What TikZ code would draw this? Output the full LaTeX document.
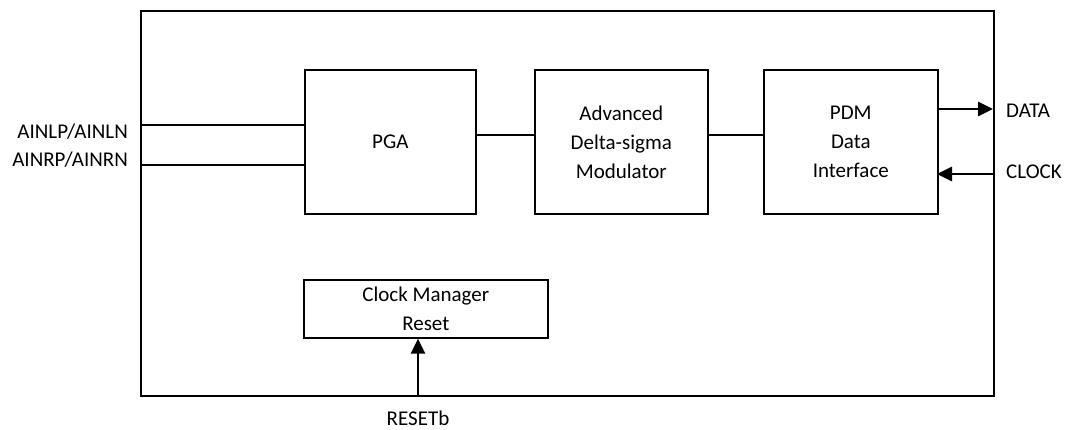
\documentclass[tikz,border=0pt]{standalone}
\usepackage{fontspec}
\setmainfont{Carlito}
\usetikzlibrary{arrows.meta}
\begin{document}
\begin{tikzpicture}[x=1pt,y=-1pt,
  blk/.style={draw,line width=1.6pt,anchor=north west,inner sep=0pt,align=center,
    font=\fontsize{21}{29}\selectfont},
  lbl/.style={inner sep=0pt,font=\fontsize{21}{29}\selectfont},
  wire/.style={line width=1.6pt},
  bus/.style={line width=2.8pt,-{Triangle[length=15pt,width=14pt]}}]
\useasboundingbox (0,0) rectangle (1065,430);
\node[blk,minimum width=853,minimum height=385] (outer) at (140,10) {};
\node[blk,minimum width=171,minimum height=144] (pga) at (304,69) {PGA};
\node[blk,minimum width=173,minimum height=144] (mod) at (534,69) {Advanced\\Delta-sigma\\Modulator};
\node[blk,minimum width=174,minimum height=144] (pdm) at (763,69) {PDM\\Data\\Interface};
\node[blk,minimum width=244,minimum height=58] (clk) at (303,279) {Clock Manager\\Reset};
% inputs
\coordinate (inL) at (140,125);
\coordinate (inR) at (140,165);
\draw[wire] (inL) -- (inL -| pga.west);
\draw[wire] (inR) -- (inR -| pga.west);
\node[lbl,anchor=east] (tL) at (128,132) {AINLP/AINLN};
\node[lbl,anchor=east] (tR) at (128,160) {AINRP/AINRN};
% chain
\coordinate (c1) at (475,135);
\draw[wire] (c1) -- (c1 -| mod.west);
\coordinate (c2) at (707,135);
\draw[wire] (c2) -- (c2 -| pdm.west);
% data / clock
\coordinate (dA) at (937,109);
\coordinate (dB) at (993,109);
\draw[bus] (dA) -- (dB);
\node[lbl,anchor=west] (tD) at (1006,111) {DATA};
\coordinate (kA) at (993,174);
\coordinate (kB) at (937,174);
\draw[bus] (kA) -- (kB);
\node[lbl,anchor=west] (tK) at (1006,172) {CLOCK};
% reset
\coordinate (rA) at (418,395);
\draw[bus] (rA) -- (rA |- clk.south);
\node[lbl] (tRs) at (418,418) {RESETb};
\end{tikzpicture}
\end{document}
